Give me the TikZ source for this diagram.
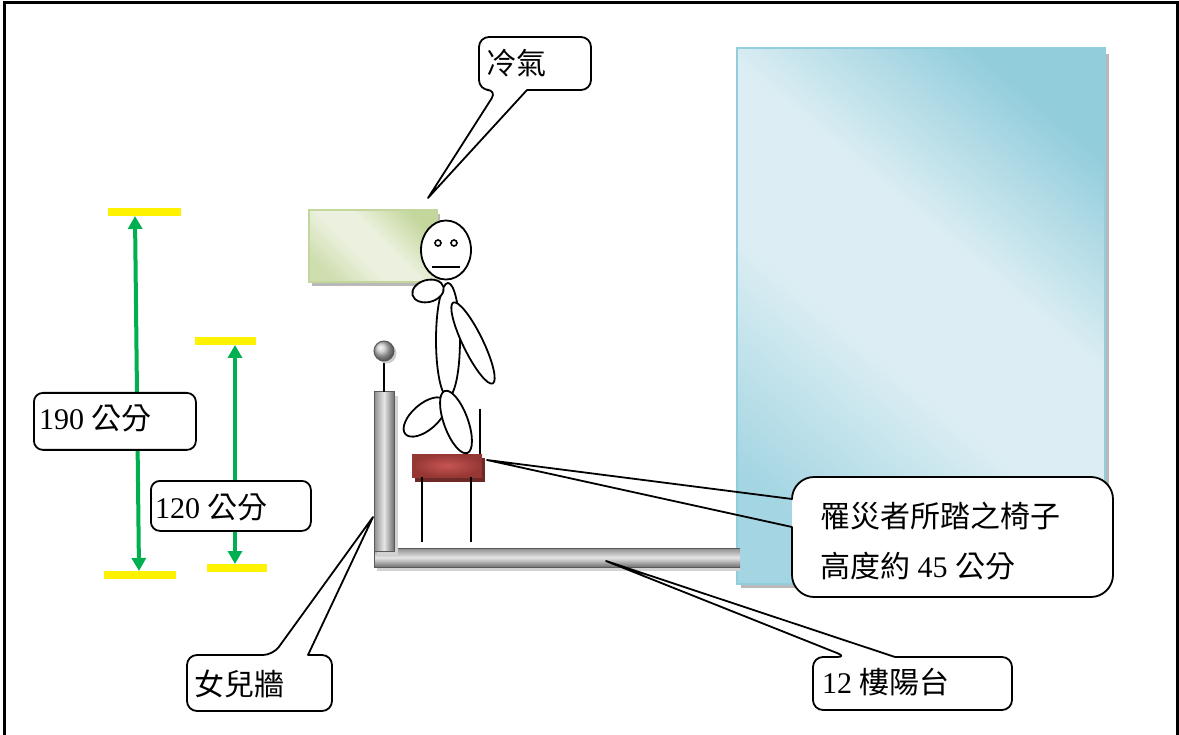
\documentclass[tikz,border=0pt]{standalone}
\usepackage{fontspec}
\setmainfont{Liberation Serif}
\newfontfamily\cjk{Noto Sans CJK TC}
\usetikzlibrary{arrows.meta,calc}

\definecolor{aquaD}{HTML}{92CDDC}
\definecolor{aquaM}{HTML}{A3D5E2}
\definecolor{aquaL}{HTML}{DCEEF3}
\definecolor{oliveD}{HTML}{C3D69B}
\definecolor{oliveM}{HTML}{CFDEAF}
\definecolor{oliveL}{HTML}{EBF1DE}
\definecolor{dimgreen}{HTML}{00B050}
\definecolor{seatD}{HTML}{953735}
\definecolor{seatL}{HTML}{C65552}
\definecolor{seatS}{HTML}{6E2826}
\definecolor{barD}{HTML}{8C8C8C}
\definecolor{barL}{HTML}{E6E6E6}
\definecolor{barE}{HTML}{707070}

% glossy diagonal fills: darker at two opposite corners, broad light band between
\pgfdeclareverticalshading{glassfill}{100bp}{color(0bp)=(aquaM); color(24bp)=(aquaM);
  color(44bp)=(aquaL); color(58bp)=(aquaL); color(76bp)=(aquaD); color(100bp)=(aquaD)}
\pgfdeclareverticalshading{acfill}{100bp}{color(0bp)=(oliveM); color(24bp)=(oliveM);
  color(42bp)=(oliveL); color(55bp)=(oliveL); color(76bp)=(oliveD); color(100bp)=(oliveD)}

\begin{document}
\begin{tikzpicture}[x=1pt,y=-1pt,
  frameline/.style={line width=3pt},
  figline/.style={draw=black, line width=1.8pt, fill=white},
  boxfill/.style={fill=white, rounded corners=#1, inner sep=0pt, anchor=north west},
  boxfill/.default=10pt,
  callout/.style={draw=black, line width=1.8pt, line join=round, line cap=round},
  dimbox/.style={draw=black, line width=1.8pt, fill=white, rounded corners=9pt, inner sep=0pt, anchor=north west},
  ybarnode/.style={fill=yellow, minimum height=8pt, inner sep=0pt},
  dimarrow/.style={draw=dimgreen, line width=4pt,
    {Triangle[width=14pt,length=13pt]}-{Triangle[width=14pt,length=13pt]}},
  txt/.style={anchor=base west, inner sep=0pt, font=\fontsize{30}{45}\selectfont},
]
\useasboundingbox (0,0) rectangle (1179,735);

% outer frame, open at the bottom
\draw[frameline] (4.5,735) -- (4.5,2.5) -- (1177.5,2.5) -- (1177.5,735);

% neighbouring building / window pane
\fill[gray!55] (741,54) rectangle (1109,588);
\shade[shading=glassfill, shading angle=-40] (737,48) rectangle (1105,584);
\draw[aquaD, line width=1.5pt] (737,48) rectangle (1105,584);

% balcony floor
\fill[gray!35] (377,552) rectangle (740,571);
\shade[top color=barD, bottom color=barE, middle color=barL] (374,548) rectangle (740,567);
\draw[gray!70!black, line width=1pt] (740,548) -- (374,548) -- (374,567) -- (740,567);

% parapet wall
\fill[gray!35] (377,396) rectangle (398,555);
\shade[left color=barD, right color=barE, middle color=barL] (374,392) rectangle (394,551);
\draw[gray!70!black, line width=1pt] (374,392) rectangle (394,551);

% railing knob
\draw[line width=1.8pt] (384,361) -- (384,392);
\fill[gray!40] (386.5,353.5) circle (10);
\shade[ball color=gray!45] (384,351) circle (10);
\draw[gray!70!black, line width=1pt] (384,351) circle (10);

% chair
\fill[seatS] (415,458) rectangle (485,482);
\shade[inner color=seatL, outer color=seatD] (412,454) rectangle (482,477);
\draw[line width=1.8pt] (422,477) -- (422,542);
\draw[line width=1.8pt] (471,477) -- (471,542);
\draw[line width=1.8pt] (480,409) -- (480,454);

% air conditioner
\fill[gray!55] (312,214) rectangle (440,286);
\shade[shading=acfill, shading angle=-45] (309,210) rectangle (437,282);
\draw[oliveD, line width=1.2pt] (309,210) rectangle (437,282);

% stick figure
\draw[figline] (448,340) ellipse [x radius=12, y radius=57];
\draw[figline, rotate around={26:(473,343)}] (473,343) ellipse [x radius=10, y radius=45];
\draw[figline] (446,250) ellipse [x radius=25, y radius=29.5];
\draw[line width=1.6pt] (438,243) circle (3);
\draw[line width=1.6pt] (454,243) circle (3);
\draw[line width=1.8pt] (432,267) -- (460,267);
\draw[figline, rotate around={15:(428,291)}] (428,291) ellipse [x radius=16, y radius=11];
\draw[figline, rotate around={-49:(425,417)}] (425,417) ellipse [x radius=13, y radius=26];
\draw[figline, rotate around={20:(456,422)}] (456,422) ellipse [x radius=12, y radius=33];

% height marks
\node[ybarnode, minimum width=73pt] (y190t) at (144.5,212) {};
\node[ybarnode, minimum width=72pt] (y190b) at (140,574.5) {};
\node[ybarnode, minimum width=61pt] (y120t) at (225.5,341) {};
\node[ybarnode, minimum width=60pt] (y120b) at (237,567.5) {};
\coordinate (a190t) at (135,216);
\coordinate (a190b) at (139,571);
\coordinate (a120t) at (235,345);
\coordinate (a120b) at (235,564);
\draw[dimarrow] (a190t) -- (a190b);
\draw[dimarrow] (a120t) -- (a120b);

\node[dimbox, minimum width=162pt, minimum height=57pt] (b190) at (33,392) {};
\node[txt] (t190) at (39,430) {190 {\cjk 公分}};
\node[dimbox, minimum width=160pt, minimum height=50pt] (b120) at (150,480) {};
\node[txt] (t120) at (155,518) {120 {\cjk 公分}};

% callout: air conditioner
\coordinate (actip) at (428,198);
\node[boxfill, minimum width=112pt, minimum height=53pt] (acbox) at (479,37) {};
\draw[callout] (527,90) [rounded corners=10pt] -- (591,90) -- (591,37) -- (479,37) -- (479,90)
  -- (497,90) [sharp corners] -- (actip) -- (527,90);
\node[txt] (actext) at (486,75) {\cjk 冷氣};

% callout: parapet
\coordinate (wtip) at (373,517);
\node[boxfill, minimum width=145pt, minimum height=56pt] (wbox) at (187,655) {};
\draw[callout] (308,655) [rounded corners=10pt] -- (332,655) -- (332,711) -- (187,711) -- (187,655)
  -- (273,655) [sharp corners] -- (wtip) -- (308,655);
\node[txt] (wtext) at (194,695) {\cjk 女兒牆};

% callout: chair (corners drawn as quarter curves, radius 22)
\coordinate (ctip) at (487,460);
\node[boxfill=22pt, minimum width=321pt, minimum height=120pt] (cbox) at (792,477) {};
\draw[callout] (792,527) -- (792,575) .. controls (792,587) and (802,597) .. (814,597)
  -- (1091,597) .. controls (1103,597) and (1113,587) .. (1113,575)
  -- (1113,499) .. controls (1113,487) and (1103,477) .. (1091,477)
  -- (814,477) .. controls (802,477) and (792,487) .. (792,499)
  -- (ctip) -- (792,527);
\node[txt] (ctext1) at (820,527) {\cjk 罹災者所踏之椅子};
\node[txt] (ctext2) at (820,577) {{\cjk 高度約} 45 {\cjk 公分}};

% callout: balcony
\coordinate (btip) at (606,561);
\node[boxfill, minimum width=199pt, minimum height=53pt] (bbox) at (813,657) {};
\draw[callout] (895,657) [rounded corners=10pt] -- (1012,657) -- (1012,710) -- (813,710) -- (813,657)
  -- (847,657) [sharp corners] -- (btip) -- (895,657);
\node[txt] (btext) at (822,693) {12 {\cjk 樓陽台}};

\end{tikzpicture}
\end{document}
